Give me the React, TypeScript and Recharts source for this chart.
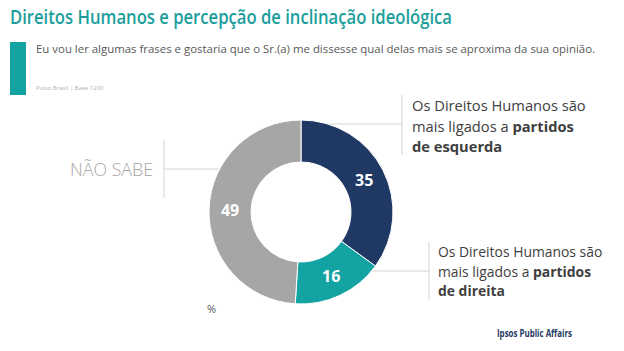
import { Cell, Pie, PieChart } from "recharts";

const categories = ["Partidos de esquerda", "Partidos de direita", "Não sabe"];
const values = [35, 16, 49];
const colors = ["#1f3864", "#14a3a3", "#a6a6a6"];

const data = categories.map((name, i) => ({ name, value: values[i] }));

const RAD = Math.PI / 180;

const renderValue = (p: any) => {
  const r = (p.innerRadius + p.outerRadius) / 2;
  const x = p.cx + r * Math.cos(-p.midAngle * RAD);
  const y = p.cy + r * Math.sin(-p.midAngle * RAD);
  return (
    <text x={x} y={y} fill="#fff" textAnchor="middle" dominantBaseline="central" fontSize={16} fontWeight={700} fontFamily="'Open Sans', sans-serif">
      {p.value}
    </text>
  );
};

const font = "'Open Sans', sans-serif";
const line = "#d4d4d4";

export default function App() {
  return (
    <div style={{ position: "fixed", left: 0, top: 0, width: 624, height: 351, background: "#fff", fontFamily: font }}>
      <svg width={624} height={351} style={{ position: "absolute", left: 0, top: 0 }}>
        <text x={10} y={24} fill="#1a9e9b" fontSize={19} fontWeight={600} textLength={442} lengthAdjust="spacingAndGlyphs">
          Direitos Humanos e percepção de inclinação ideológica
        </text>
        <rect x={10} y={42} width={16} height={53} fill="#14a3a3" />
        <text x={36} y={53} fill="#595959" fontSize={11} textLength={559} lengthAdjust="spacingAndGlyphs">
          Eu vou ler algumas frases e gostaria que o Sr.(a) me dissesse qual delas mais se aproxima da sua opinião.
        </text>
        <text x={36} y={90} fill="#b0b0b0" fontSize={6}>
          Pulso Brasil | Base 1200
        </text>

        <line x1={402} y1={95} x2={402} y2={155} stroke={line} />
        <line x1={310} y1={124} x2={402} y2={124} stroke={line} />
        <g fill="#404040" fontSize={14.7}>
          <text x={412} y={111}>Os Direitos Humanos são</text>
          <text x={412} y={132}>mais ligados a <tspan fontWeight={700}>partidos</tspan></text>
          <text x={412} y={152} fontWeight={700}>de esquerda</text>
        </g>

        <line x1={429} y1={242} x2={429} y2={300} stroke={line} />
        <line x1={340} y1={271} x2={429} y2={271} stroke={line} />
        <g fill="#404040" fontSize={13.9}>
          <text x={438} y={257}>Os Direitos Humanos são</text>
          <text x={438} y={277}>mais ligados a <tspan fontWeight={700}>partidos</tspan></text>
          <text x={438} y={296} fontWeight={700}>de direita</text>
        </g>

        <line x1={164} y1={140} x2={164} y2={198} stroke={line} />
        <line x1={164} y1={169} x2={240} y2={169} stroke={line} />
        <text x={153} y={176} textAnchor="end" fill="#a6a6a6" fontSize={17.8} fontWeight={300}>
          NÃO SABE
        </text>

        <text x={207} y={313} fill="#595959" fontSize={11}>%</text>
        <text x={497} y={337} fill="#1f3864" fontSize={10} fontWeight={700} textLength={75} lengthAdjust="spacingAndGlyphs">
          Ipsos Public Affairs
        </text>
      </svg>
      <div style={{ position: "absolute", left: 0, top: 0 }}>
        <PieChart width={624} height={351} margin={{ top: 0, right: 0, bottom: 0, left: 0 }}>
          <Pie
            data={data}
            dataKey="value"
            nameKey="name"
            cx={301}
            cy={212}
            innerRadius={50}
            outerRadius={92}
            startAngle={90}
            endAngle={-270}
            stroke="#fff"
            strokeWidth={1}
            label={renderValue}
            labelLine={false}
            isAnimationActive={false}
          >
            {data.map((d, i) => (
              <Cell key={d.name} fill={colors[i]} />
            ))}
          </Pie>
        </PieChart>
      </div>
    </div>
  );
}
